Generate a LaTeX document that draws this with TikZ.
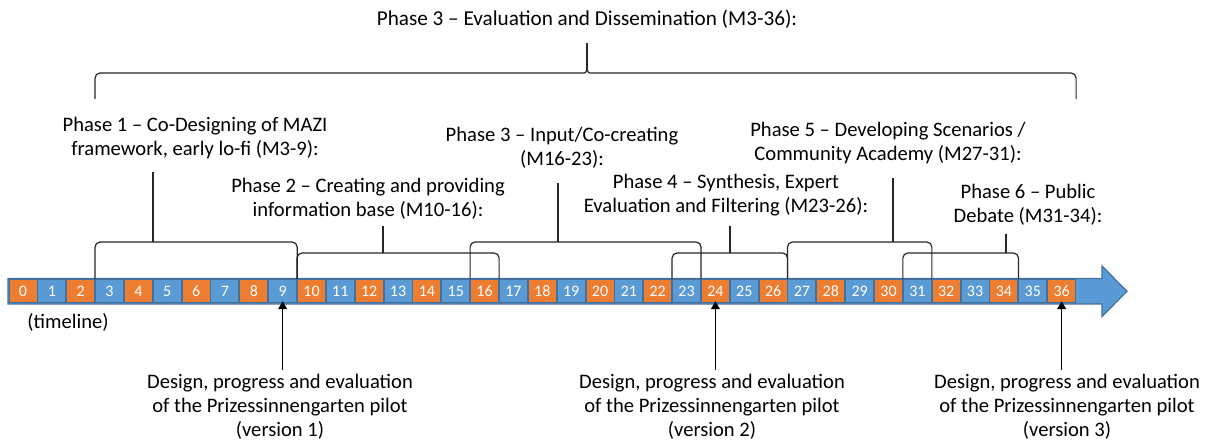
\documentclass[tikz,border=0pt]{standalone}
\usepackage{fontspec}
\setmainfont{Carlito}
\usepackage{tikz}
\usetikzlibrary{arrows.meta}
\usepackage{xcolor}
\definecolor{tlorange}{HTML}{ED7D31}
\definecolor{tlblue}{HTML}{5B9BD5}
\definecolor{tlborder}{HTML}{41719C}

\begin{document}
\begin{tikzpicture}[x=0.5pt,y=-0.5pt,
  month/.style={shape=rectangle,
    draw=tlborder,
    line width=0.5pt,
    text=white,
    inner sep=0pt,
    minimum width=14pt,
    minimum height=11.5pt,
    font=\fontsize{8}{9}\selectfont},
  phase/.style={shape=rectangle,
    align=center,
    inner sep=0pt,
    font=\fontsize{10.3}{12}\selectfont},
  bracket/.style={draw=black!85,line width=0.6pt,rounded corners=2.5pt},
  pilot/.style={-{Triangle[length=4pt,width=4.5pt]},line width=0.6pt,shorten >=-1pt}]
      %\draw[help lines] (0,0) grid[step=50] (1208,448); % Only for Development
      \useasboundingbox (0,0) rectangle (1208,448);

      % timeline arrow
      \draw[fill=tlblue,draw=tlborder,line width=0.6pt]
        (8,278.5) -- (1102,278.5) -- (1102,266) -- (1127,291.25) --
        (1102,316.5) -- (1102,304) -- (8,304) -- cycle;

      \foreach \m in {0,...,36}{
        \ifodd\m\relax \def\boxcol{tlblue}\else \def\boxcol{tlorange}\fi
        \node[month,fill=\boxcol] (m\m) at ({23+28.85*\m},291.25) {\m};
      }
      \node[phase] (tl) at (68,322) {(timeline)};

      % overall phase
      \node[phase,font=\fontsize{10.6}{12}\selectfont] (p0) at (587,19) {Phase 3 -- Evaluation and Dissemination (M3-36):};
      \coordinate (t0) at (587,43);
      \coordinate (c0) at (587,68);
      \draw[bracket] (m3.north west |- 0,99) |- (582,73);
      \draw[bracket] (m36.north east |- 0,99) |- (592,73);
      \draw[draw=black!85,line width=0.6pt] (582,73) .. controls (586,73) .. (c0);
      \draw[draw=black!85,line width=0.6pt] (592,73) .. controls (588,73) .. (c0);
      \draw[bracket] (c0) -- (t0);

      % phase 1
      \node[phase] (p1) at (195,138.5) {Phase 1 -- Co-Designing of MAZI\\framework, early lo-fi (M3-9):};
      \coordinate (b1) at (153,242);
      \coordinate (t1) at (153,172);
      \draw[bracket] (m3.north west) |- (b1) -| (m9.north east);
      \draw[bracket] (b1) -- (t1);

      % phase 2
      \node[phase] (p2) at (368,199) {Phase 2 -- Creating and providing\\information base (M10-16):};
      \coordinate (b2) at (383,253);
      \coordinate (t2) at (383,226);
      \draw[bracket] (m10.north west) |- (b2) -| (m16.north east);
      \draw[bracket] (b2) -- (t2);

      % phase 3
      \node[phase] (p3) at (562,148) {Phase 3 -- Input/Co-creating\\(M16-23):};
      \coordinate (b3) at (558,242);
      \coordinate (t3) at (558,183);
      \draw[bracket] (m16.north west) |- (b3) -| (m23.north east);
      \draw[bracket] (b3) -- (t3);

      % phase 4
      \node[phase] (p4) at (726,195.5) {Phase 4 -- Synthesis, Expert\\Evaluation and Filtering (M23-26):};
      \coordinate (b4) at (730,253);
      \coordinate (t4) at (730,226);
      \draw[bracket] (m23.north west) |- (b4) -| (m26.north east);
      \draw[bracket] (b4) -- (t4);

      % phase 5
      \node[phase] (p5) at (888,143) {Phase 5 -- Developing Scenarios /\\Community Academy (M27-31):};
      \coordinate (b5) at (893,242);
      \coordinate (t5) at (893,178);
      \draw[bracket] (m27.north west) |- (b5) -| (m31.north east);
      \draw[bracket] (b5) -- (t5);

      % phase 6
      \node[phase] (p6) at (1028,205) {Phase 6 -- Public\\Debate (M31-34):};
      \coordinate (b6) at (1006,253);
      \coordinate (t6) at (1006,234);
      \draw[bracket] (m31.north west) |- (b6) -| (m34.north east);
      \draw[bracket] (b6) -- (t6);

      % pilots
      \node[phase,inner ysep=2pt] (d1) at (280,407) {Design, progress and evaluation\\of the Prizessinnengarten pilot\\(version 1)};
      \node[phase,inner ysep=2pt] (d2) at (712,407) {Design, progress and evaluation\\of the Prizessinnengarten pilot\\(version 2)};
      \node[phase,inner ysep=2pt] (d3) at (1067,407) {Design, progress and evaluation\\of the Prizessinnengarten pilot\\(version 3)};
      \draw[pilot] (m9.south |- d1.north) -- (m9.south);
      \draw[pilot] (m24.south |- d2.north) -- (m24.south);
      \draw[pilot] (m36.south |- d3.north) -- (m36.south);

\end{tikzpicture}
\end{document}
